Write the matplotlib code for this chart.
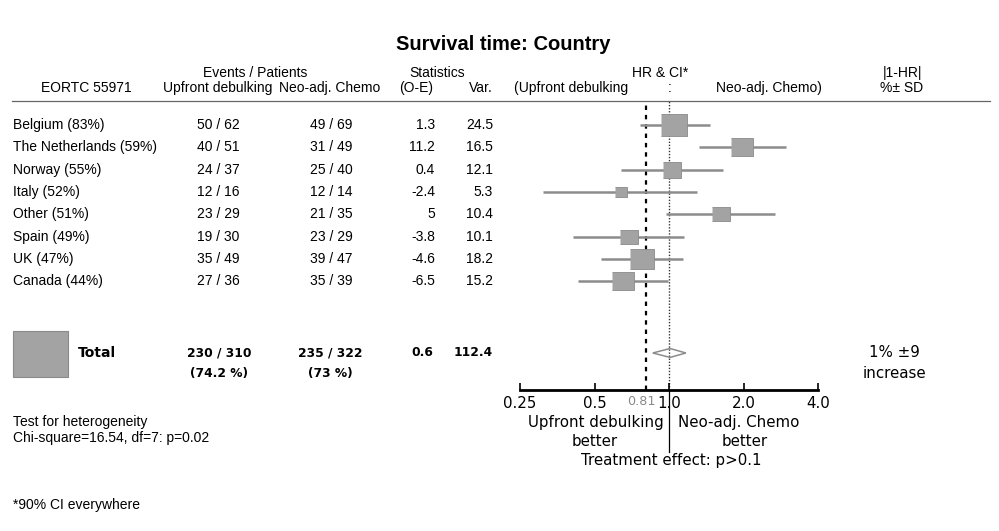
import matplotlib
matplotlib.use("Agg")
import matplotlib.pyplot as plt
from matplotlib.transforms import blended_transform_factory
from matplotlib.patches import Rectangle, Polygon
from matplotlib.lines import Line2D

# data
countries = ["Belgium (83%)", "The Netherlands (59%)", "Norway (55%)", "Italy (52%)",
             "Other (51%)", "Spain (49%)", "UK (47%)", "Canada (44%)"]
upfront = ["50 / 62", "40 / 51", "24 / 37", "12 / 16", "23 / 29", "19 / 30", "35 / 49", "27 / 36"]
neoadj = ["49 / 69", "31 / 49", "25 / 40", "12 / 14", "21 / 35", "23 / 29", "39 / 47", "35 / 39"]
o_minus_e = [1.3, 11.2, 0.4, -2.4, 5, -3.8, -4.6, -6.5]
variance = [24.5, 16.5, 12.1, 5.3, 10.4, 10.1, 18.2, 15.2]
hr = [1.05, 1.97, 1.03, 0.64, 1.62, 0.69, 0.78, 0.65]
ci_lo = [0.76, 1.32, 0.64, 0.31, 0.97, 0.41, 0.53, 0.43]
ci_hi = [1.47, 2.96, 1.66, 1.30, 2.69, 1.15, 1.14, 0.99]

total_upfront = ["230 / 310", "(74.2 %)"]
total_neoadj = ["235 / 322", "(73 %)"]
total_oe = 0.6
total_var = 112.4
total_hr = 1.01
total_lo = 0.86
total_hi = 1.17
overall_hr = 0.81
total_effect = ["1% \u00b19", "increase"]

xticks = [0.25, 0.5, 1.0, 2.0, 4.0]
xtick_labels = ["0.25", "0.5", "1.0", "2.0", "4.0"]

W, H = 999, 531
fig = plt.figure(figsize=(W / 100, H / 100), dpi=100)


def fx(px):
    return px / W


def fy(py):
    return 1 - py / H


TAB = dict(family="Liberation Sans", fontsize=10, color="black")
BIG = dict(family="DejaVu Sans", fontsize=10.8, color="black")

# forest plot axes, x on a log2 scale
ax = fig.add_axes([fx(520), fy(390), fx(818) - fx(520), fy(101) - fy(390)])
ax.set_xscale("log", base=2)
ax.set_xlim(0.25, 4.0)
ax.set_ylim(11.88, -1.076)
rows = list(range(len(countries)))
total_y = 10.22

for s in ["top", "left", "right"]:
    ax.spines[s].set_visible(False)
ax.spines["bottom"].set_linewidth(2)
ax.set_yticks([])
ax.set_xticks(xticks)
ax.set_xticklabels(xtick_labels, **BIG)
ax.xaxis.set_minor_locator(matplotlib.ticker.NullLocator())
ax.tick_params(axis="x", direction="in", length=5, width=1.2, pad=4)
ax.patch.set_alpha(0)

ax.axvline(overall_hr, color="black", lw=1.6, ls=(0, (2, 2.2)), zorder=1)
ax.axvline(1.0, color="#333333", lw=1.0, ls=(0, (1, 1.2)), zorder=1)

ax.hlines(rows, ci_lo, ci_hi, color="#8c8c8c", lw=1.8, zorder=2)
box = [(-1, -0.85), (1, -0.85), (1, 0.85), (-1, 0.85)]
for y, h, v in zip(rows, hr, variance):
    ax.plot(h, y, marker=box, ms=3.9 * v ** 0.5, color="#a3a3a3",
            mec="#8a8a8a", mew=0.6, zorder=3)

# total diamond
ax.add_patch(Polygon([(total_lo, total_y), (total_hr, total_y - 0.2),
                      (total_hi, total_y), (total_hr, total_y + 0.2)],
                     closed=True, fill=False, edgecolor="#8c8c8c", lw=1.1, zorder=3))

# gray overall label (just left of the 1.0 label) and the line under the axis
ax.annotate(f"{overall_hr:g}", xy=(1.0, 0), xycoords=("data", "axes fraction"),
            xytext=(-9.6, -8.6), textcoords="offset points", ha="right", va="center",
            family="DejaVu Sans", fontsize=9.2, color="#8a8a8a")
trans_x = blended_transform_factory(ax.transData, ax.transAxes)
ax.plot([1.0, 1.0], [0, -0.215], transform=trans_x, color="black", lw=0.9, clip_on=False)

# title and header
fig.text(fx(503), fy(45), "Survival time: Country", ha="center", va="center",
         family="Liberation Sans", fontsize=14.5, fontweight="bold")
hy1, hy2 = fy(73), fy(88)
fig.text(fx(255), hy1, "Events / Patients", ha="center", va="center", **TAB)
fig.text(fx(437), hy1, "Statistics", ha="center", va="center", **TAB)
fig.text(fx(660), hy1, "HR & CI*", ha="center", va="center", **TAB)
fig.text(fx(902), hy1, "|1-HR|", ha="center", va="center", **TAB)
fig.text(fx(86), hy2, "EORTC 55971", ha="center", va="center", **TAB)
fig.text(fx(218), hy2, "Upfront debulking", ha="center", va="center", **TAB)
fig.text(fx(330), hy2, "Neo-adj. Chemo", ha="center", va="center", **TAB)
fig.text(fx(416), hy2, "(O-E)", ha="center", va="center", **TAB)
fig.text(fx(493), hy2, "Var.", ha="right", va="center", **TAB)
fig.text(fx(514), hy2, "(Upfront debulking", ha="left", va="center", **TAB)
fig.text(fx(670), hy2, ":", ha="center", va="center", **TAB)
fig.text(fx(822), hy2, "Neo-adj. Chemo)", ha="right", va="center", **TAB)
fig.text(fx(902), hy2, "%\u00b1 SD", ha="center", va="center", **TAB)
fig.add_artist(Line2D([fx(12), fx(990)], [fy(101), fy(101)], color="#666666", lw=0.9))

# table rows
tt = blended_transform_factory(fig.transFigure, ax.transData)
for y, c, u, n, oe, v in zip(rows, countries, upfront, neoadj, o_minus_e, variance):
    fig.text(fx(13), y, c, transform=tt, ha="left", va="center", **TAB)
    fig.text(fx(218), y, u, transform=tt, ha="center", va="center", **TAB)
    fig.text(fx(331), y, n, transform=tt, ha="center", va="center", **TAB)
    fig.text(fx(435), y, f"{oe:g}", transform=tt, ha="right", va="center", **TAB)
    fig.text(fx(493), y, f"{v:g}", transform=tt, ha="right", va="center", **TAB)

# total row
TOT = dict(family="DejaVu Sans", fontsize=8.8, fontweight="bold", color="black")
fig.patches.append(Rectangle((fx(13), fy(377)), fx(55), 46 / H, transform=fig.transFigure,
                             facecolor="#a3a3a3", edgecolor="#8a8a8a", lw=0.8))
fig.text(fx(78), total_y, "Total", transform=tt, ha="left", va="center",
         family="DejaVu Sans", fontsize=10, fontweight="bold")
for i in range(2):
    fig.text(fx(219), total_y + 0.9 * i, total_upfront[i], transform=tt, ha="center", va="center", **TOT)
    fig.text(fx(330), total_y + 0.9 * i, total_neoadj[i], transform=tt, ha="center", va="center", **TOT)
    fig.text(fx(894), total_y + 0.9 * i, total_effect[i], transform=tt, ha="center", va="center", **BIG)
fig.text(fx(433), total_y, f"{total_oe:g}", transform=tt, ha="right", va="center", **TOT)
fig.text(fx(493), total_y, f"{total_var:g}", transform=tt, ha="right", va="center", **TOT)

# labels under the axis
fig.text(fx(664), fy(423), "Upfront debulking", ha="right", va="center", **BIG)
fig.text(fx(678), fy(423), "Neo-adj. Chemo", ha="left", va="center", **BIG)
fig.text(fx(595), fy(441), "better", ha="center", va="center", **BIG)
fig.text(fx(745), fy(441), "better", ha="center", va="center", **BIG)
fig.text(fx(671), fy(460), "Treatment effect: p>0.1", ha="center", va="center", **BIG)

# notes
fig.text(fx(13), fy(422), "Test for heterogeneity", ha="left", va="center", **TAB)
fig.text(fx(13), fy(438), "Chi-square=16.54, df=7: p=0.02", ha="left", va="center", **TAB)
fig.text(fx(13), fy(505), "*90% CI everywhere", ha="left", va="center", **TAB)

fig.savefig("out.png", dpi=100)
plt.close(fig)
